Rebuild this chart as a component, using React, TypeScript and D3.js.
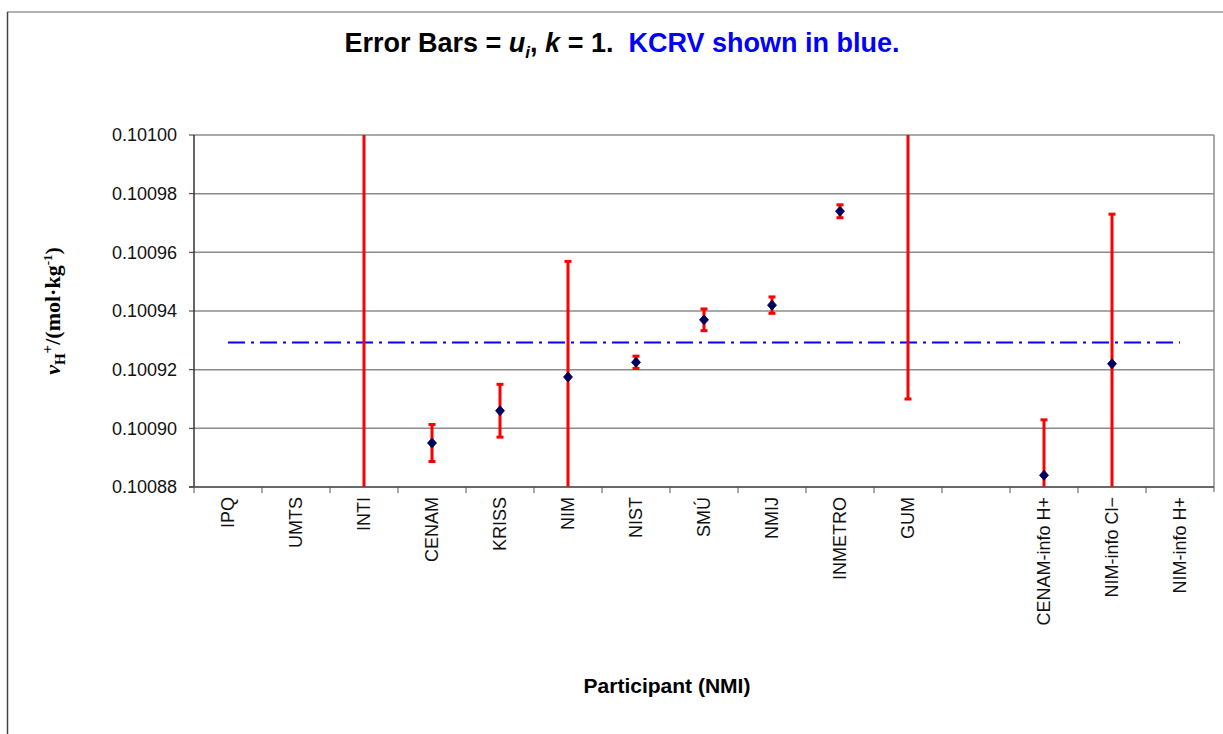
import React from "react";
import * as d3 from "d3";

const categories = ["IPQ", "UMTS", "INTI", "CENAM", "KRISS", "NIM", "NIST", "SMÚ", "NMIJ", "INMETRO", "GUM", " ", "CENAM-info H+", "NIM-info Cl−", "NIM-info H+"];
// measured value and standard uncertainty u_i (null = no result shown)
const values = [null, null, 0.10105, 0.100895, 0.100906, 0.1009175, 0.1009225, 0.100937, 0.100942, 0.100974, 0.10102, null, 0.100884, 0.100922, null];
const uncert = [null, null, 0.00025, 0.0000063, 0.000009, 0.0000394, 0.0000021, 0.0000037, 0.0000028, 0.0000022, 0.00011, null, 0.0000189, 0.000051, null];
const kcrv = 0.1009293;
const yTicks = [0.10088, 0.1009, 0.10092, 0.10094, 0.10096, 0.10098, 0.101];

const W = 1223;
const H = 734;
const left = 194, right = 1214, top = 135, bottom = 487;

const App = () => {
    const x = d3.scaleBand().domain(categories).range([left, right]).padding(0);
    const y = d3.scaleLinear().domain([0.10088, 0.101]).range([bottom, top]);
    const cx = (c: string) => (x(c) as number) + x.bandwidth() / 2;

    const points = categories
        .map((c, i) => ({ c, v: values[i], u: uncert[i] }))
        .filter((d) => d.v !== null);

    return (
        <svg width={W} height={H} style={{ position: "absolute", left: 0, top: 0 }} fontFamily="Liberation Sans, Arial, sans-serif">
            <rect x={0} y={0} width={W} height={H} fill="#fff" />
            {/* outer chart frame */}
            <line x1={7} y1={12} x2={W} y2={12} stroke="#999" strokeWidth={1.5} />
            <line x1={7.5} y1={12} x2={7.5} y2={H} stroke="#444" strokeWidth={1.5} />

            <defs>
                <clipPath id="plotClip">
                    <rect x={left} y={top} width={right - left} height={bottom - top} />
                </clipPath>
            </defs>

            {/* gridlines */}
            {yTicks.map((t) => (
                <line key={t} x1={left} x2={right} y1={y(t)} y2={y(t)} stroke="#8c8c8c" strokeWidth={1.5} />
            ))}
            <line x1={right} x2={right} y1={top} y2={bottom + 5} stroke="#8c8c8c" strokeWidth={1.5} />

            {/* KCRV */}
            <line x1={cx(categories[0])} x2={cx(categories[categories.length - 1])} y1={y(kcrv)} y2={y(kcrv)}
                stroke="#0000ff" strokeWidth={2} strokeDasharray="17,6,3,6" />

            {/* error bars */}
            <g clipPath="url(#plotClip)">
                {points.map((d) => {
                    const px = cx(d.c);
                    const hi = y((d.v as number) + (d.u as number));
                    const lo = y((d.v as number) - (d.u as number));
                    return (
                        <g key={d.c}>
                            <line x1={px} x2={px} y1={hi} y2={lo} stroke="#ff0000" strokeWidth={3} />
                            <line x1={px - 3.5} x2={px + 3.5} y1={hi} y2={hi} stroke="#ff0000" strokeWidth={3} />
                            <line x1={px - 3.5} x2={px + 3.5} y1={lo} y2={lo} stroke="#ff0000" strokeWidth={3} />
                        </g>
                    );
                })}
                {points.map((d) => {
                    const px = cx(d.c);
                    const py = y(d.v as number);
                    return (
                        <path key={"m" + d.c} d={`M${px},${py - 5}L${px + 4.5},${py}L${px},${py + 5}L${px - 4.5},${py}Z`}
                            fill="#000066" stroke="#000033" strokeWidth={0.8} />
                    );
                })}
            </g>

            {/* axes */}
            <line x1={left} x2={left} y1={top} y2={bottom} stroke="#333" strokeWidth={1.5} />
            <line x1={left - 5} x2={right} y1={bottom} y2={bottom} stroke="#555" strokeWidth={1.5} />
            {yTicks.map((t) => (
                <g key={"yt" + t}>
                    <line x1={left - 5} x2={left} y1={y(t)} y2={y(t)} stroke="#333" strokeWidth={1} />
                    <text x={177} y={y(t)} dy="0.35em" textAnchor="end" fontSize={18} fill="#111">{t.toFixed(5)}</text>
                </g>
            ))}
            {categories.map((c) => (
                <line key={"xt" + c} x1={x(c) as number} x2={x(c) as number} y1={bottom} y2={bottom + 6} stroke="#555" strokeWidth={1} />
            ))}
            {categories.map((c) => (
                <text key={"xl" + c} transform={`translate(${cx(c)},${bottom + 10}) rotate(-90)`} textAnchor="end"
                    dy="0.35em" fontSize={18} fill="#111">{c}</text>
            ))}

            {/* titles */}
            <text x={622} y={52} textAnchor="middle" fontSize={27} fontWeight="bold" fill="#000">
                Error Bars = <tspan fontStyle="italic">u</tspan><tspan fontStyle="italic" fontSize={17} dy={6}>i</tspan>
                <tspan dy={-6}>, </tspan><tspan fontStyle="italic">k</tspan> = 1.{"\u00a0\u00a0"}
                <tspan fill="#0000ff">KCRV shown in blue.</tspan>
            </text>
            <text x={667} y={693} textAnchor="middle" fontSize={21} fontWeight="bold" fill="#000">Participant (NMI)</text>
            <text transform={`translate(60,311) rotate(-90)`} textAnchor="middle" fontSize={22} fontWeight="bold"
                fontFamily="Liberation Serif, Times New Roman, serif" fill="#000">
                <tspan fontStyle="italic">v</tspan><tspan fontSize={15} dy={5}>H</tspan><tspan fontSize={15} dy={-13}>+</tspan>
                <tspan dy={8}>/(mol·kg</tspan><tspan fontSize={13} dy={-8}>-1</tspan><tspan dy={8}>)</tspan>
            </text>
        </svg>
    );
};

export default App;
